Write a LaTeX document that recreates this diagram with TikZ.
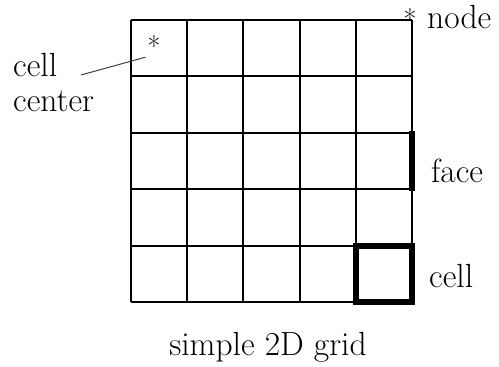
\documentclass[tikz,border=0pt]{standalone}
\begin{document}
\begin{tikzpicture}[x=1pt,y=-1pt,
  lbl/.style={inner sep=0pt,font=\fontsize{33.5}{38}\selectfont},
  star/.style={inner sep=0pt,font=\fontsize{28}{30}\selectfont},
  gridline/.style={line width=1.7pt},
  thickline/.style={line width=6.5pt}]
\useasboundingbox (0,0) rectangle (499,367);
% grid
\foreach \x in {131,187,243,300,356,412}{
  \draw[gridline] (\x,20) -- (\x,302);
}
\foreach \y in {20,76,133,189,246,302}{
  \draw[gridline] (131,\y) -- (412,\y);
}
% highlighted face and cell
\draw[thickline,line cap=butt] (412,131) -- (412,191);
\draw[thickline] (356,246) rectangle (412,302);
% labels
\node[lbl,anchor=base west] (cl) at (13,76) {cell};
\node[lbl,anchor=base west] (ce) at (13,111) {center};
\node[lbl,anchor=base west] (nd) at (427,28) {node};
\node[lbl,anchor=base west] (fc) at (431,182) {face};
\node[lbl,anchor=base west] (cc) at (429,287) {cell};
\node[lbl,anchor=base] (ti) at (268,355) {simple 2D grid};
% asterisks
\node[star] (cs) at (154,46) {*};
\node[star] (ns) at (410,19) {*};
\coordinate (lineend) at (81,75);
\draw[line width=1pt,black!75,shorten >=2pt] (lineend) -- (cs.south west);
\end{tikzpicture}
\end{document}
